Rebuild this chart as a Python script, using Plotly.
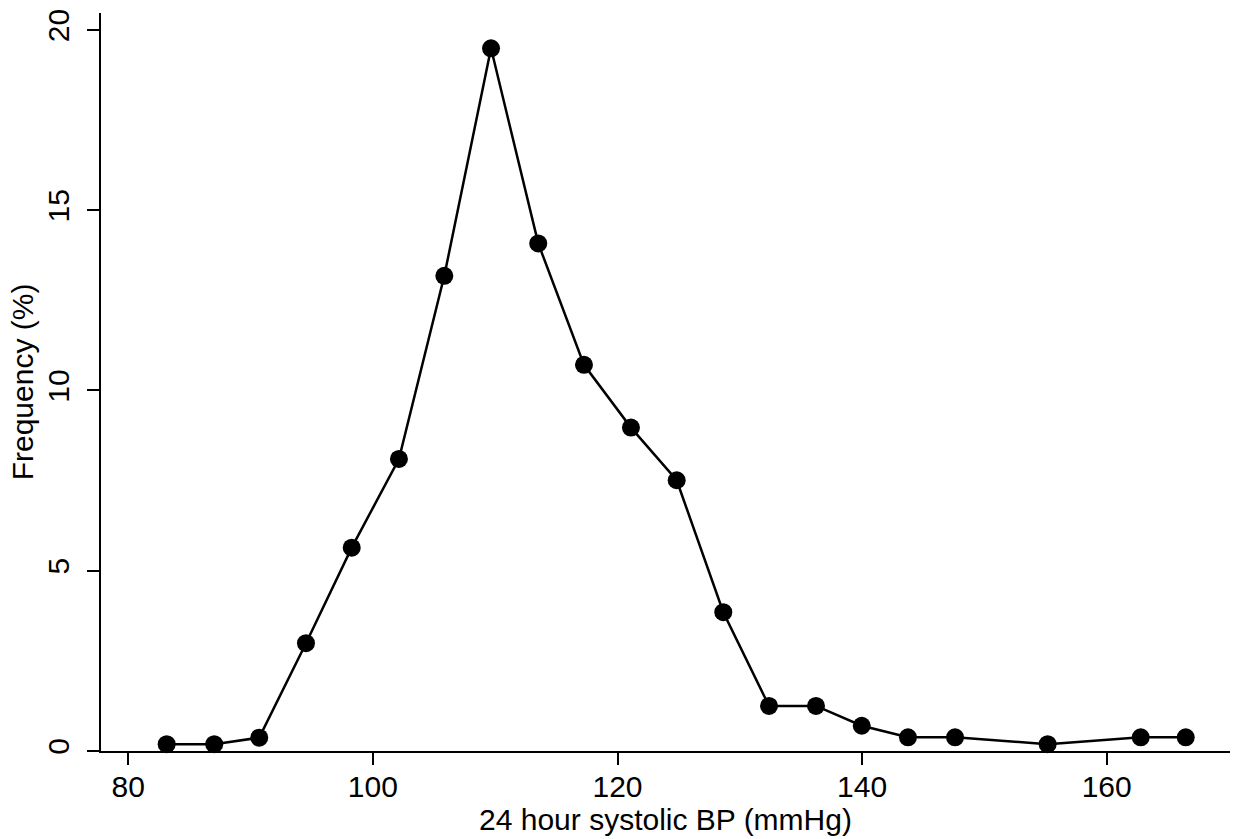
import plotly.graph_objects as go

bp_mmhg = [83.14, 87.03, 90.71, 94.53, 98.27, 102.13, 105.84, 109.66, 113.52, 117.26,
           121.10, 124.84, 128.65, 132.39, 136.23, 139.97, 143.75, 147.60, 155.17,
           162.78, 166.46]
freq_pct = [0.19, 0.19, 0.37, 2.99, 5.64, 8.10, 13.18, 19.49, 14.08, 10.71,
            8.97, 7.51, 3.85, 1.25, 1.25, 0.70, 0.38, 0.38, 0.19, 0.38, 0.38]

x_ticks = [80, 100, 120, 140, 160]
y_ticks = [0, 5, 10, 15, 20]

fig = go.Figure(go.Scatter(
    x=bp_mmhg, y=freq_pct, mode="lines+markers",
    line=dict(color="black", width=2.5),
    marker=dict(color="black", size=18),
    cliponaxis=False,
))

font = dict(family="Liberation Sans, Arial, sans-serif", size=30, color="black")

fig.update_layout(
    width=1240, height=839,
    margin=dict(l=101, r=10, t=13, b=88),
    paper_bgcolor="white", plot_bgcolor="white",
    showlegend=False,
    font=font,
)
fig.update_xaxes(
    range=[77.77, 170.08], tickvals=x_ticks, ticks="outside", ticklen=12,
    tickwidth=1.5, tickcolor="black", showline=True, linecolor="black", linewidth=1.5,
    showgrid=False, zeroline=False, tickfont=font, automargin=False,
    ticklabelstandoff=-4,
    title=dict(text="24 hour systolic BP (mmHg)", font=font, standoff=0),
)
fig.update_yaxes(
    range=[0, 20.47], tickvals=y_ticks, ticks="outside", ticklen=12,
    tickwidth=1.5, tickcolor="black", showline=True, linecolor="black", linewidth=1.5,
    showgrid=False, zeroline=False, tickfont=font, tickangle=-90, automargin=False,
    ticklabelstandoff=6,
    title=dict(text="Frequency (%)", font=font, standoff=0),
)

fig.write_html("out.html", config={"displayModeBar": False},
               post_script="document.body.style.margin='0';document.body.style.overflow='hidden';")
